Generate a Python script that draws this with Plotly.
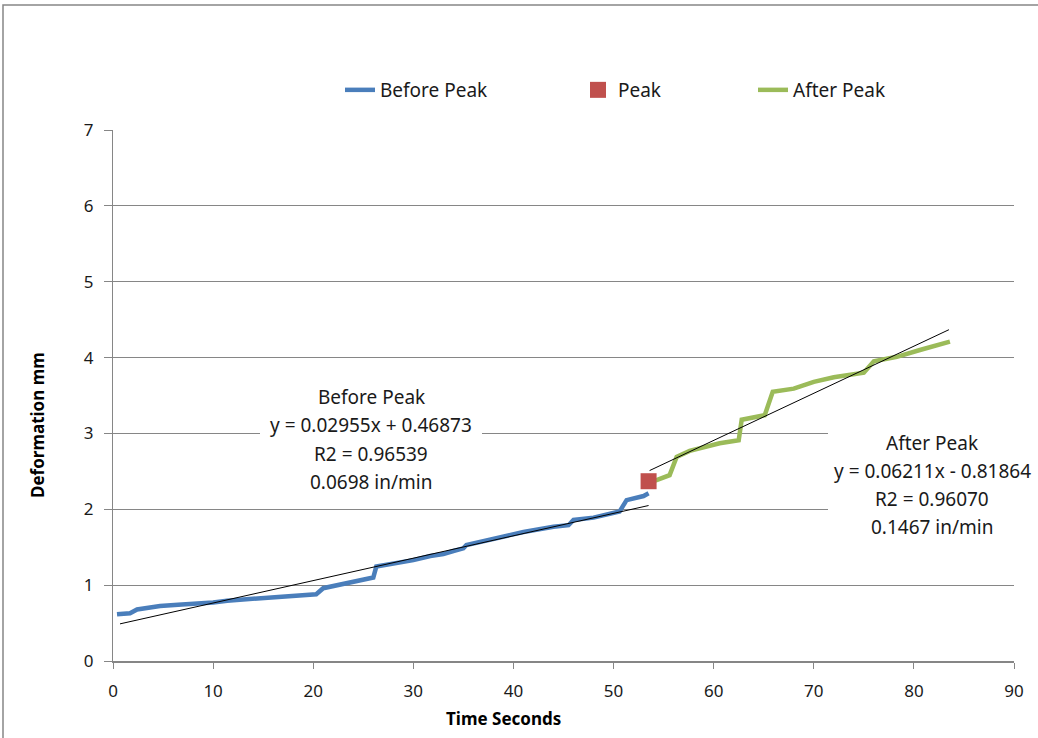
import plotly.graph_objects as go

# ---- data ----
before_x = [0.4, 1.7, 2.4, 3.5, 4.7, 6.5, 8.7, 10.0, 11.4, 13.0, 15.4, 18.0, 20.3, 21.0, 22.0, 23.7,
            25.0, 26.0, 26.3, 28.0, 30.0, 31.7, 33.0, 34.0, 35.0, 35.3, 37.0, 38.7, 41.0, 44.0,
            45.5, 46.0, 48.0, 50.6, 51.3, 53.0, 53.5]
before_y = [0.615, 0.63, 0.68, 0.70, 0.725, 0.74, 0.75, 0.77, 0.795, 0.81, 0.84, 0.85, 0.88, 0.96, 0.99, 1.045,
            1.07, 1.10, 1.245, 1.28, 1.33, 1.385, 1.41, 1.45, 1.485, 1.53, 1.58, 1.64, 1.70, 1.77,
            1.79, 1.86, 1.89, 1.97, 2.12, 2.175, 2.21]
peak_x = [53.5]
peak_y = [2.37]
after_x = [53.9, 54.3, 55.6, 56.3, 57.6, 59.0, 60.6, 62.5, 62.8, 65.1, 65.9, 68.0, 70.0, 72.0,
           75.0, 76.0, 78.3, 80.6, 83.6]
after_y = [2.37, 2.385, 2.45, 2.69, 2.77, 2.82, 2.87, 2.91, 3.18, 3.24, 3.55, 3.59, 3.68, 3.74,
           3.80, 3.95, 4.01, 4.10, 4.21]

before_fit = (0.02955, 0.46873)
after_fit = (0.06211, -0.81864)
before_fit_range = [0.7, 53.5]
after_fit_range = [53.6, 83.5]

before_text = ["Before Peak", "y = 0.02955x + 0.46873", "R2 = 0.96539", "0.0698 in/min"]
after_text = ["After Peak", "y = 0.06211x - 0.81864", "R2 = 0.96070", "0.1467 in/min"]

x_ticks = [0, 10, 20, 30, 40, 50, 60, 70, 80, 90]
y_ticks = [0, 1, 2, 3, 4, 5, 6, 7]

BLUE = "#4A7EBB"
RED = "#C0504D"
GREEN = "#9BBB59"
GRID = "#868686"
FONT = "Noto Sans"
TXT = "#1a1a1a"

W, H = 1038, 738
L, R, T, B = 113, 1014, 130, 661
X0, X1, Y0, Y1 = 0, 90, 0, 7


def px2x(px):
    return X0 + (px - L) / (R - L) * (X1 - X0)


def px2y(py):
    return Y0 + (B - py) / (B - T) * (Y1 - Y0)


def px2px(px):
    return (px - L) / (R - L)


def py2py(py):
    return (B - py) / (B - T)


fig = go.Figure()

fig.add_trace(go.Scatter(x=before_x, y=before_y, mode="lines", name="Before Peak",
                         line=dict(color=BLUE, width=4.5), legend="legend"))
fig.add_trace(go.Scatter(x=after_x, y=after_y, mode="lines", name="After Peak",
                         line=dict(color=GREEN, width=4.5), legend="legend3"))
fig.add_trace(go.Scatter(x=peak_x, y=peak_y, mode="markers", name="Peak",
                         marker=dict(color=RED, symbol="square", size=16), legend="legend2"))

for (m, c), rng in ((before_fit, before_fit_range), (after_fit, after_fit_range)):
    fig.add_trace(go.Scatter(x=rng, y=[m * v + c for v in rng], mode="lines", showlegend=False,
                             line=dict(color="black", width=1), hoverinfo="skip"))

shapes = [
    # outer chart frame
    dict(type="rect", xref="paper", yref="paper", x0=px2px(3), x1=px2px(1100), y0=py2py(800), y1=py2py(5),
         line=dict(color=GRID, width=1.5), fillcolor="rgba(0,0,0,0)", layer="below"),
    # label boxes hiding gridlines
    dict(type="rect", xref="x", yref="y", x0=px2x(260), x1=px2x(482), y0=px2y(495), y1=px2y(385),
         line=dict(width=0), fillcolor="white", layer="between"),
    dict(type="rect", xref="x", yref="y", x0=px2x(828), x1=90, y0=px2y(545), y1=px2y(425),
         line=dict(width=0), fillcolor="white", layer="between"),
]

annotations = []
for t, py in zip(before_text, [397, 425, 454, 482]):
    annotations.append(dict(x=px2x(371), y=px2y(py), xref="x", yref="y", text=t, showarrow=False,
                            xanchor="center", yanchor="middle",
                            font=dict(family=FONT, size=19, color=TXT)))
for t, py in zip(after_text, [443, 471, 499, 527]):
    annotations.append(dict(x=px2x(932), y=px2y(py), xref="x", yref="y", text=t, showarrow=False,
                            xanchor="center", yanchor="middle",
                            font=dict(family=FONT, size=19, color=TXT)))
annotations.append(dict(x=px2px(503), y=py2py(718), xref="paper", yref="paper", text="<b>Time Seconds</b>",
                        showarrow=False, xanchor="center", yanchor="middle",
                        font=dict(family=FONT, size=17, color="black")))
annotations.append(dict(x=px2px(37), y=py2py(425), xref="paper", yref="paper", text="<b>Deformation mm</b>",
                        showarrow=False, textangle=-90, xanchor="center", yanchor="middle",
                        font=dict(family=FONT, size=17, color="black")))

legend_common = dict(orientation="h", yanchor="middle", y=py2py(90), xanchor="left",
                     font=dict(family=FONT, size=19, color=TXT), bgcolor="rgba(0,0,0,0)")

fig.update_layout(
    width=W, height=H,
    margin=dict(l=L, r=W - R, t=T, b=H - B),
    paper_bgcolor="white", plot_bgcolor="white",
    font=dict(family=FONT, size=17, color=TXT),
    shapes=shapes, annotations=annotations,
    legend=dict(x=px2px(340), **legend_common),
    legend2=dict(x=px2px(578), **legend_common),
    legend3=dict(x=px2px(753), **legend_common),
    xaxis=dict(range=[X0, X1], tickvals=x_ticks, showgrid=False, zeroline=False,
               showline=True, linecolor=GRID, linewidth=2, ticks="outside", ticklen=6, tickcolor=GRID,
               tickfont=dict(family=FONT, size=17, color=TXT), ticklabelstandoff=8),
    yaxis=dict(range=[Y0, Y1], tickvals=y_ticks, showgrid=True, gridcolor=GRID, gridwidth=1, zeroline=False,
               showline=True, linecolor=GRID, linewidth=1, ticks="outside", ticklen=8, tickcolor=GRID,
               tickfont=dict(family=FONT, size=17, color=TXT), ticklabelstandoff=7),
)

fig.write_html("out.html", config={"displayModeBar": False},
               post_script="document.body.style.margin='0';")
